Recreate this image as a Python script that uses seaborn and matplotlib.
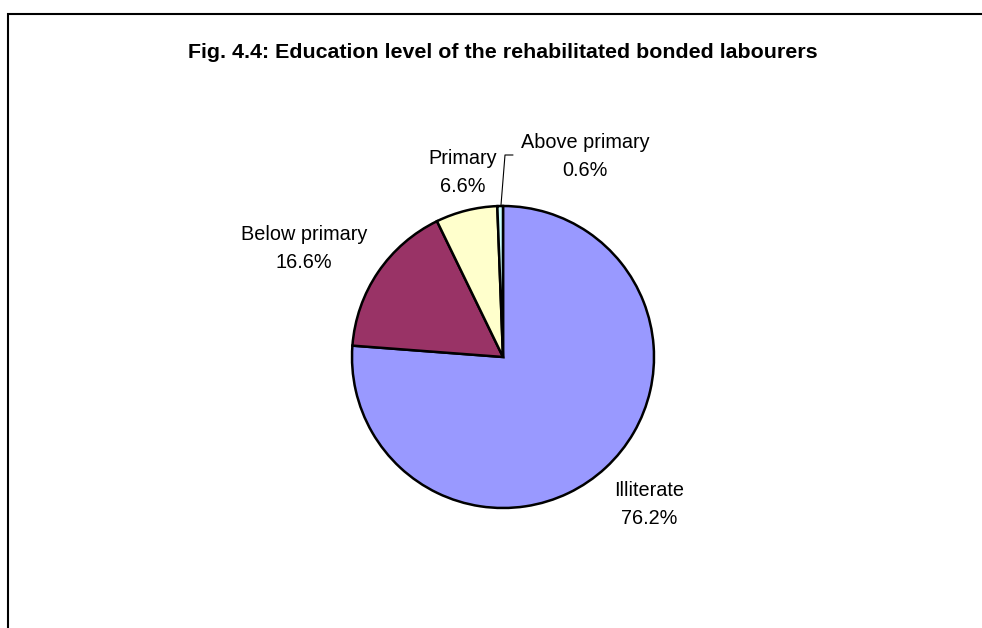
import matplotlib.pyplot as plt
import seaborn as sns

categories = ['Illiterate', 'Below primary', 'Primary', 'Above primary']
shares = [76.2, 16.6, 6.6, 0.6]
colors = ['#9999FF', '#993366', '#FFFFCC', '#CCFFFF']

# label anchors in pixel coords (x, y from top) for the 982x628 canvas
label_pos = [(649, 504), (304, 248), (463, 173), (585, 156)]

W, H = 982, 628

if __name__ == "__main__":
    sns.set_theme(style="white")
    plt.rcParams['font.family'] = ['Liberation Sans', 'DejaVu Sans']

    fig = plt.figure(figsize=(W / 100, H / 100), dpi=100)
    ax = fig.add_axes([0, 0, 1, 1])

    ax.pie(shares, colors=colors, startangle=90, counterclock=False,
           center=(503, H - 357), radius=151, frame=True,
           wedgeprops=dict(edgecolor='black', linewidth=1.8))
    ax.set_xlim(0, W)
    ax.set_ylim(0, H)
    ax.set_axis_off()

    for name, val, (x, y) in zip(categories, shares, label_pos):
        ax.text(x, H - y, f"{name}\n{val:.1f}%", ha='center', va='center',
                fontsize=14.3, linespacing=1.6, color='black')

    # leader line for the tiny slice
    ax.plot([513, 505, 501], [H - 155, H - 155, H - 205], color='black', lw=0.8)

    # chart area border (open on right and bottom)
    ax.plot([8, 8, W], [0, H - 14, H - 14], color='black', lw=1.5,
            solid_joinstyle='miter')

    ax.text(503, H - 52, 'Fig. 4.4: Education level of the rehabilitated bonded labourers',
            ha='center', va='center', fontsize=15.4, fontweight='bold', color='black')

    fig.savefig('out.png', dpi=100)
